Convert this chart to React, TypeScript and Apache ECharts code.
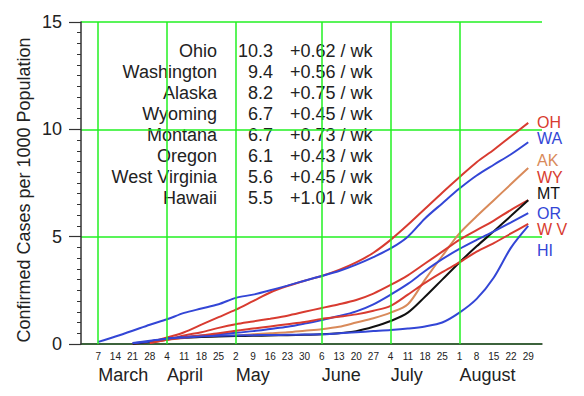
import React, { useEffect, useRef } from 'react';
import * as echarts from 'echarts';

// x = week index (0 = Feb 29, 1 = Mar 7, ... 26 = Aug 29)
const dayLabels = ['', '7', '14', '21', '28', '4', '11', '18', '25', '2', '9', '16', '23', '30', '6', '13', '20', '27', '4', '11', '18', '25', '1', '8', '15', '22', '29'];
const monthNames = ['March', 'April', 'May', 'June', 'July', 'August'];
const monthStartWeeks = [1, 5, 9, 14, 18, 22];

const states = ['Ohio', 'Washington', 'Alaska', 'Wyoming', 'Montana', 'Oregon', 'West Virginia', 'Hawaii'];
const abbrevs = ['OH', 'WA', 'AK', 'WY', 'MT', 'OR', 'W V', 'HI'];
const latest = ['10.3', '9.4', '8.2', '6.7', '6.7', '6.1', '5.6', '5.5'];
const weeklyRate = ['+0.62', '+0.56', '+0.75', '+0.45', '+0.73', '+0.43', '+0.45', '+1.01'];

const ohio = [null, null, null, 0.0, 0.1, 0.3, 0.55, 0.9, 1.25, 1.6, 2.0, 2.4, 2.7, 2.95, 3.17, 3.45, 3.8, 4.25, 4.85, 5.55, 6.3, 7.05, 7.77, 8.47, 9.05, 9.68, 10.3];
const washington = [null, 0.1, 0.35, 0.62, 0.9, 1.15, 1.45, 1.65, 1.85, 2.15, 2.3, 2.5, 2.72, 2.95, 3.17, 3.4, 3.7, 4.05, 4.45, 5.0, 5.85, 6.55, 7.24, 7.85, 8.35, 8.84, 9.4];
const alaska = [null, null, null, 0.02, 0.1, 0.2, 0.28, 0.33, 0.37, 0.4, 0.45, 0.5, 0.55, 0.62, 0.69, 0.8, 1.0, 1.2, 1.46, 1.85, 3.0, 4.1, 5.15, 5.95, 6.7, 7.45, 8.2];
const wyoming = [null, null, null, null, 0.05, 0.2, 0.4, 0.55, 0.75, 0.92, 1.05, 1.18, 1.32, 1.5, 1.68, 1.85, 2.05, 2.35, 2.75, 3.2, 3.75, 4.3, 4.85, 5.3, 5.75, 6.25, 6.7];
const montana = [null, null, null, 0.0, 0.1, 0.25, 0.3, 0.33, 0.35, 0.37, 0.38, 0.4, 0.41, 0.43, 0.45, 0.5, 0.6, 0.8, 1.07, 1.46, 2.2, 3.0, 3.8, 4.55, 5.25, 5.97, 6.7];
const oregon = [null, null, null, 0.03, 0.12, 0.25, 0.33, 0.4, 0.45, 0.52, 0.6, 0.7, 0.8, 0.95, 1.12, 1.3, 1.52, 1.85, 2.3, 2.8, 3.4, 3.95, 4.43, 4.85, 5.25, 5.67, 6.1];
const westVirginia = [null, null, null, null, 0.05, 0.2, 0.3, 0.4, 0.5, 0.62, 0.72, 0.82, 0.92, 1.02, 1.17, 1.27, 1.38, 1.55, 1.78, 2.3, 2.85, 3.35, 3.8, 4.3, 4.7, 5.15, 5.6];
const hawaii = [null, null, null, 0.05, 0.15, 0.25, 0.3, 0.35, 0.38, 0.4, 0.41, 0.42, 0.43, 0.44, 0.45, 0.5, 0.55, 0.6, 0.65, 0.72, 0.82, 1.0, 1.46, 2.1, 3.1, 4.49, 5.5];

const seriesValues = [ohio, washington, alaska, wyoming, montana, oregon, westVirginia, hawaii];

const RED = '#d83b30';
const BLUE = '#3346d6';
const TAN = '#d98a5a';
const BLACK = '#111111';
const seriesColors = [RED, BLUE, TAN, RED, BLACK, BLUE, RED, BLUE];
const GREEN = '#22f022';
const FONT = "'Liberation Sans', Arial, sans-serif";
const TEXT = '#222222';

// layout of the side labels
const sideLabelY = [121, 137.5, 159, 176, 192, 212, 228, 249.5];

export default function App() {
  const ref = useRef<HTMLDivElement>(null);
  useEffect(() => {
    if (!ref.current) return;
    const chart = echarts.init(ref.current, null, { renderer: 'svg' });

    const lineSeries = seriesValues.map((vals, si) => ({
      type: 'line',
      name: states[si],
      data: vals.map((v, w) => [w, v]).filter((p) => p[1] !== null),
      showSymbol: false,
      smooth: 0.3,
      z: 3,
      lineStyle: { color: seriesColors[si], width: 2 },
      itemStyle: { color: seriesColors[si] },
    }));

    const tableTexts: any[] = [];
    states.forEach((s, i) => {
      const y = 51 + i * 21;
      tableTexts.push({ type: 'text', x: 217, y, style: { text: s, font: `18px ${FONT}`, fill: TEXT, textAlign: 'right', textVerticalAlign: 'middle' } });
      tableTexts.push({ type: 'text', x: 273, y, style: { text: latest[i], font: `18px ${FONT}`, fill: TEXT, textAlign: 'right', textVerticalAlign: 'middle' } });
      tableTexts.push({ type: 'text', x: 290, y, style: { text: `${weeklyRate[i]} / wk`, font: `18px ${FONT}`, fill: TEXT, textAlign: 'left', textVerticalAlign: 'middle' } });
    });
    const sideTexts = abbrevs.map((a, i) => ({
      type: 'text', x: 537, y: sideLabelY[i] + 1,
      style: { text: a, font: `16px ${FONT}`, fill: seriesColors[i], textAlign: 'left', textVerticalAlign: 'middle' },
    }));

    chart.setOption({
      animation: false,
      backgroundColor: '#ffffff',
      grid: { left: 81, top: 22, width: 461, height: 322, containLabel: false },
      xAxis: [
        {
          type: 'value', min: 0, max: 26.8, interval: 1,
          axisLine: { show: true, onZero: false, lineStyle: { color: '#333', width: 1.5 } },
          axisTick: { show: false },
          splitLine: { show: false },
          axisLabel: {
            show: true, showMaxLabel: false, showMinLabel: true, margin: 7,
            fontSize: 10, fontFamily: "'Liberation Sans Narrow', 'Arial Narrow', " + FONT, color: TEXT,
            formatter: (v: number) => dayLabels[Math.round(v)] ?? '',
          },
        },
        {
          type: 'value', min: 0, max: 26.8, interval: 1, position: 'bottom', offset: 18,
          axisLine: { show: false }, axisTick: { show: false }, splitLine: { show: false },
          axisLabel: {
            show: true, showMaxLabel: false, margin: 4, align: 'left',
            fontSize: 18, fontFamily: FONT, color: TEXT,
            formatter: (v: number) => {
              const k = monthStartWeeks.indexOf(Math.round(v));
              return k >= 0 ? monthNames[k] : '';
            },
          },
        },
      ],
      yAxis: {
        type: 'value', min: 0, max: 15, interval: 5,
        axisLine: { show: true, lineStyle: { color: '#333', width: 1.5 } },
        axisTick: { show: true, length: 12, lineStyle: { color: '#333', width: 1.2 } },
        minorTick: { show: true, splitNumber: 10, length: 4, lineStyle: { color: '#333', width: 1 } },
        splitLine: { show: true, lineStyle: { color: GREEN, width: 1.5 } },
        axisLabel: { margin: 19, fontSize: 18, fontFamily: FONT, color: TEXT },
      },
      series: [
        {
          type: 'line', data: [], z: 1, silent: true,
          markLine: {
            silent: true, symbol: 'none', label: { show: false },
            lineStyle: { color: GREEN, width: 1.5, type: 'solid' },
            data: monthStartWeeks.map((w) => ({ xAxis: w })),
          },
        },
        ...lineSeries,
      ],
      graphic: [
        {
          type: 'text', x: 24, y: 190, rotation: Math.PI / 2,
          style: { text: 'Confirmed Cases per 1000 Population', font: `18px ${FONT}`, fill: TEXT, textAlign: 'center', textVerticalAlign: 'middle' },
        },
        ...tableTexts,
        ...sideTexts,
      ],
    });
    return () => chart.dispose();
  }, []);
  return <div ref={ref} style={{ position: 'fixed', left: 0, top: 0, width: 584, height: 396, background: '#fff' }} />;
}
